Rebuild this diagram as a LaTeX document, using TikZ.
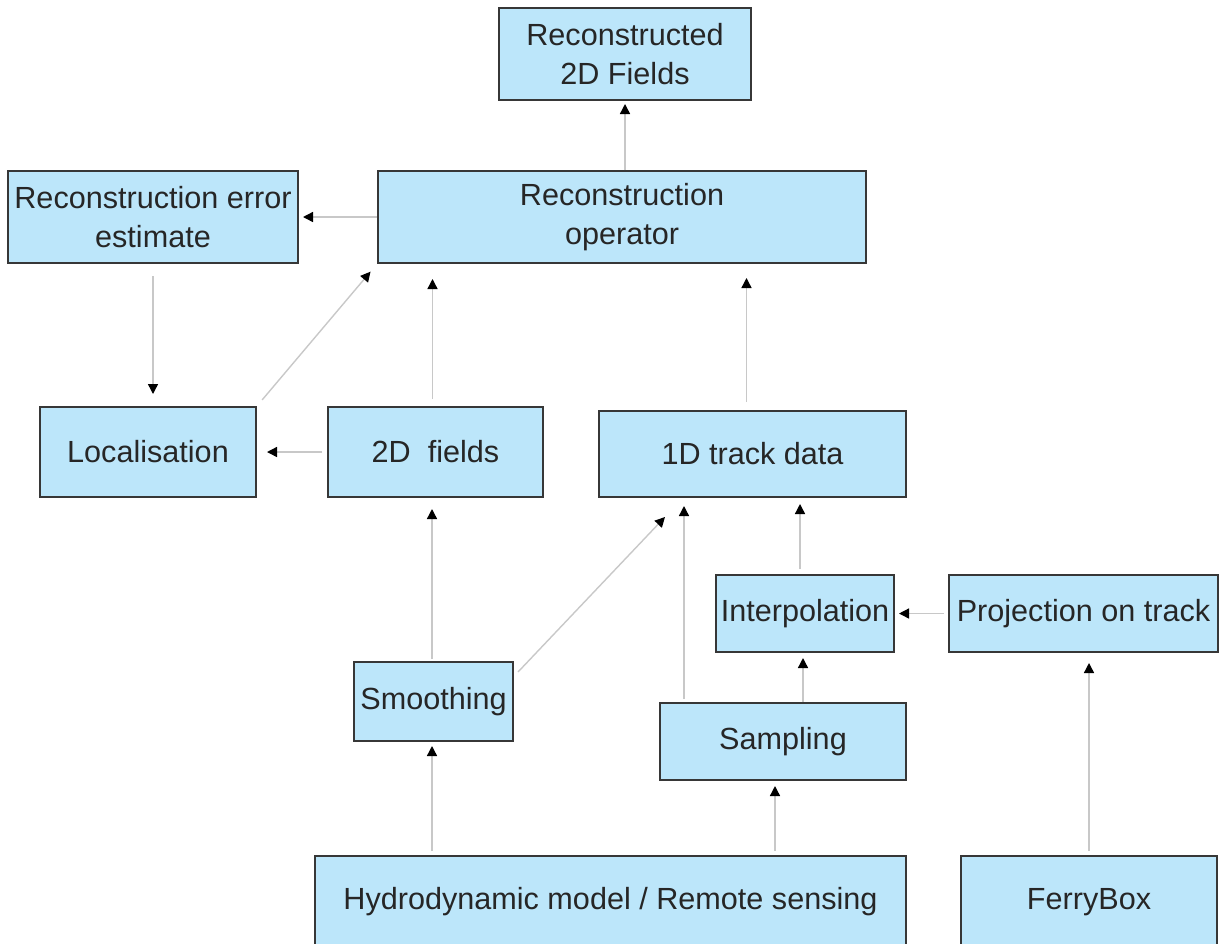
\documentclass[tikz,border=0pt]{standalone}
\usepackage{fontspec}
\setmainfont{Liberation Sans}
\usetikzlibrary{arrows.meta}
\definecolor{boxfill}{RGB}{188,230,250}
\definecolor{boxline}{RGB}{55,55,55}
\definecolor{flowline}{RGB}{200,200,200}
\tikzstyle{block}=[rectangle, draw=boxline, fill=boxfill, line width=1pt, inner sep=0pt, align=center,
    font=\fontsize{15.3pt}{19.5pt}\selectfont, text=black!85]
\tikzstyle{flow}=[draw=flowline, line width=0.7pt, -{Triangle[length=5pt,width=5pt,color=black]}]

\begin{document}
\begin{tikzpicture}[x=0.5pt, y=-0.5pt]
    \path[use as bounding box, clip] (0,0) rectangle (1220,943);
    % boxes, placed at pixel centres
    \node[block, minimum width=126pt, minimum height=46pt] (recon) at (625,54) {Reconstructed\\2D Fields};
    \node[block, minimum width=145pt, minimum height=46pt] (errest) at (153,217) {Reconstruction error\\estimate};
    \node[block, minimum width=244pt, minimum height=46pt] (oper) at (622,217) {Reconstruction\\operator};
    \node[block, minimum width=108pt, minimum height=45pt] (local) at (148,452) {Localisation};
    \node[block, minimum width=107.5pt, minimum height=45pt] (fields) at (435.5,452) {2D\ \ fields};
    \node[block, minimum width=153.5pt, minimum height=43pt] (track) at (752.5,454) {1D track data};
    \node[block, minimum width=89pt, minimum height=38.5pt] (interp) at (805,613.5) {Interpolation};
    \node[block, minimum width=134.5pt, minimum height=38.5pt] (proj) at (1083.5,613.5) {Projection on track};
    \node[block, minimum width=79.5pt, minimum height=39.5pt] (smooth) at (433.5,701.5) {Smoothing};
    \node[block, minimum width=123pt, minimum height=38.5pt] (sampling) at (783,741.5) {Sampling};
    \node[block, minimum width=295.5pt, minimum height=46pt] (hydro) at (610.5,902) {Hydrodynamic model / Remote sensing};
    \node[block, minimum width=128pt, minimum height=46pt] (ferry) at (1089,902) {FerryBox};
    % connectors
    \draw[flow, shorten >=1.5pt] (oper.north -| recon) -- (recon.south);
    \draw[flow, shorten >=2pt] (oper.west) -- (oper.west -| errest.east);
    \draw[flow, shorten <=6pt, shorten >=6pt] (errest.south) -- (errest.south |- local.north);
    \draw[flow, shorten <=4pt, shorten >=5pt] (local.north east) -- (oper.south west);
    \draw[flow, shorten <=2.5pt, shorten >=5pt] (fields.west) -- (local.east);
    \draw[flow, shorten <=3.5pt, shorten >=7.5pt] ([xshift=-1.5pt]fields.north) -- ([xshift=-1.5pt]fields.north |- oper.south);
    \draw[flow, shorten <=4pt, shorten >=7pt] ([xshift=-3pt]track.north) -- ([xshift=-3pt]track.north |- oper.south);
    \draw[flow, shorten <=1pt, shorten >=5.5pt] ([xshift=-0.75pt]smooth.north) -- ([xshift=-0.75pt]smooth.north |- fields.south);
    \draw[flow] ([shift={(2pt,-5.5pt)}]smooth.north east) -- ([shift={(33.5pt,-9.5pt)}]track.south west);
    \draw[flow, shorten <=1.5pt, shorten >=4pt] ([xshift=12.5pt]sampling.north west) -- ([xshift=12.5pt]sampling.north west |- track.south);
    \draw[flow, shorten <=2.5pt, shorten >=3pt] ([xshift=-2.5pt]interp.north) -- ([xshift=-2.5pt]interp.north |- track.south);
    \draw[flow, shorten >=2.5pt] ([xshift=-1pt]interp.south |- sampling.north) -- ([xshift=-1pt]interp.south);
    \draw[flow, shorten <=2pt, shorten >=2pt] (proj.west) -- (proj.west -| interp.east);
    \draw[flow, shorten <=2pt, shorten >=2pt] ([xshift=-0.75pt]smooth.south |- hydro.north) -- ([xshift=-0.75pt]smooth.south);
    \draw[flow, shorten <=2pt, shorten >=2.5pt] ([xshift=-4pt]sampling.south |- hydro.north) -- ([xshift=-4pt]sampling.south);
    \draw[flow, shorten <=2pt, shorten >=5pt] (ferry.north) -- (ferry.north |- proj.south);
\end{tikzpicture}
\end{document}
